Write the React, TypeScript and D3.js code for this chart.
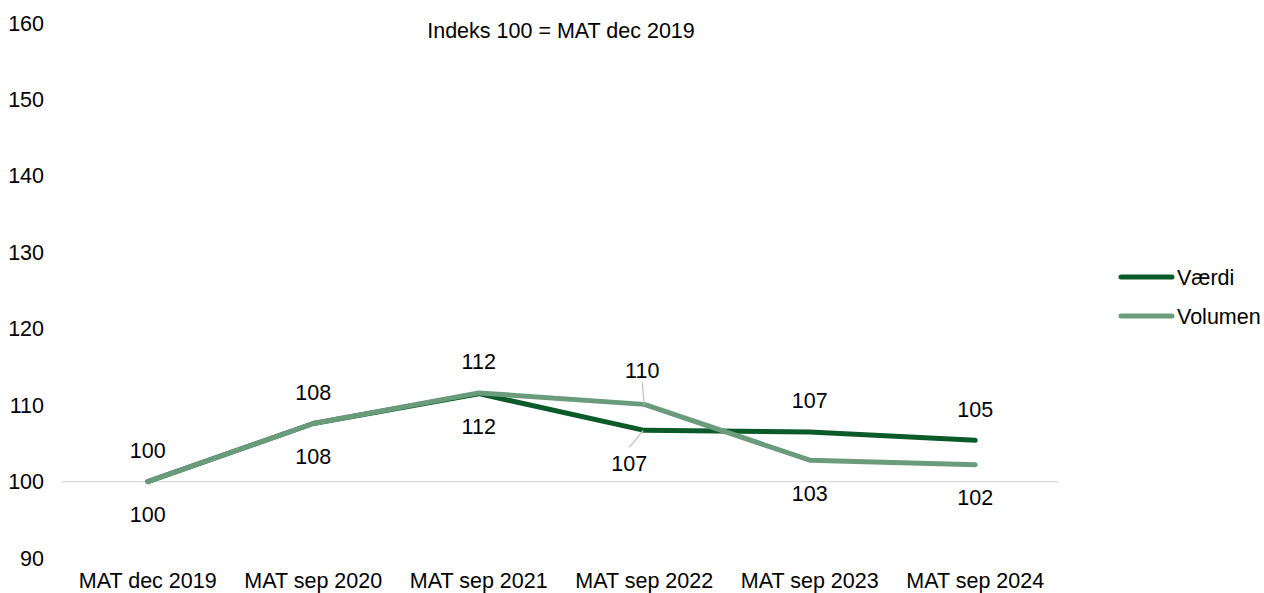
import { useEffect, useRef } from 'react'
import * as d3 from 'd3'

const categories = ['MAT dec 2019', 'MAT sep 2020', 'MAT sep 2021', 'MAT sep 2022', 'MAT sep 2023', 'MAT sep 2024']
const vaerdi = [100, 107.6, 111.5, 106.7, 106.5, 105.4]
const volumen = [100, 107.6, 111.6, 110.1, 102.8, 102.2]
const yTicks = [90, 100, 110, 120, 130, 140, 150, 160]
const seriesNames = ['Værdi', 'Volumen']
const seriesColors = ['#0b5a2a', '#6a9c7c']
const title = 'Indeks 100 = MAT dec 2019'

function App() {
    const ref = useRef<SVGSVGElement>(null)

    useEffect(() => {
        const svg = d3.select(ref.current)
        svg.selectAll('*').remove()

        const font = 'Liberation Sans, Arial, sans-serif'
        const fs = '21.5px'
        const x = d3.scaleBand().domain(categories).range([65, 1058])
        const y = d3.scaleLinear().domain([90, 160]).range([558, 23])
        const cx = (i: number) => (x(categories[i]) as number) + x.bandwidth() / 2

        // y tick labels
        svg.append('g')
            .selectAll('text')
            .data(yTicks)
            .enter()
            .append('text')
            .attr('x', 44)
            .attr('y', d => y(d))
            .attr('dy', '0.35em')
            .attr('text-anchor', 'end')
            .style('font-family', font)
            .style('font-size', fs)
            .attr('fill', '#000')
            .text(d => d)

        // category axis line at 100
        svg.append('line')
            .attr('x1', 62)
            .attr('x2', 1058)
            .attr('y1', y(100))
            .attr('y2', y(100))
            .attr('stroke', '#d9d9d9')
            .attr('stroke-width', 1.3)

        svg.append('g')
            .selectAll('text')
            .data(categories)
            .enter()
            .append('text')
            .attr('x', (d, i) => cx(i))
            .attr('y', 580)
            .attr('dy', '0.35em')
            .attr('text-anchor', 'middle')
            .style('font-family', font)
            .style('font-size', fs)
            .text(d => d)

        svg.append('text')
            .attr('x', 561)
            .attr('y', 30)
            .attr('dy', '0.35em')
            .attr('text-anchor', 'middle')
            .style('font-family', font)
            .style('font-size', fs)
            .text(title)

        const line = d3.line<number>()
            .x((d, i) => cx(i))
            .y(d => y(d))

        const series = [vaerdi, volumen]
        series.forEach((s, k) => {
            svg.append('path')
                .datum(s)
                .attr('d', line)
                .attr('fill', 'none')
                .attr('stroke', seriesColors[k])
                .attr('stroke-width', 5)
                .attr('stroke-linecap', 'round')
                .attr('stroke-linejoin', 'round')
        })

        // data labels
        categories.forEach((c, i) => {
            const volAbove = volumen[i] >= vaerdi[i]
            series.forEach((s, k) => {
                const above = k === 1 ? volAbove : !volAbove
                let lx = cx(i)
                let ly = y(s[i]) + (above ? -31 : 33)
                if (i === 3) {
                    // callout labels with leader lines
                    if (k === 1) {
                        lx = cx(i) - 2
                        ly = y(s[i]) - 34
                        svg.append('line')
                            .attr('x1', lx).attr('y1', ly + 12)
                            .attr('x2', cx(i)).attr('y2', y(s[i]))
                            .attr('stroke', '#bfbfbf').attr('stroke-width', 1.2)
                    } else {
                        lx = cx(i) - 15
                        ly = y(s[i]) + 33
                        svg.append('line')
                            .attr('x1', lx).attr('y1', ly - 16)
                            .attr('x2', cx(i) - 1).attr('y2', y(s[i]))
                            .attr('stroke', '#bfbfbf').attr('stroke-width', 1.2)
                    }
                }
                svg.append('text')
                    .attr('x', lx)
                    .attr('y', ly)
                    .attr('dy', '0.35em')
                    .attr('text-anchor', 'middle')
                    .style('font-family', font)
                    .style('font-size', fs)
                    .text(Math.round(s[i]))
            })
        })

        // legend
        seriesNames.forEach((n, k) => {
            const ly = 277 + k * 39
            svg.append('line')
                .attr('x1', 1121).attr('x2', 1172)
                .attr('y1', ly).attr('y2', ly)
                .attr('stroke', seriesColors[k])
                .attr('stroke-width', 5)
                .attr('stroke-linecap', 'round')
            svg.append('text')
                .attr('x', 1177)
                .attr('y', ly)
                .attr('dy', '0.35em')
                .style('font-family', font)
                .style('font-size', fs)
                .text(n)
        })
    }, [])

    return (
        <svg ref={ref} width={1264} height={593} style={{ position: 'absolute', left: 0, top: 0, background: '#fff' }} />
    )
}

export default App
